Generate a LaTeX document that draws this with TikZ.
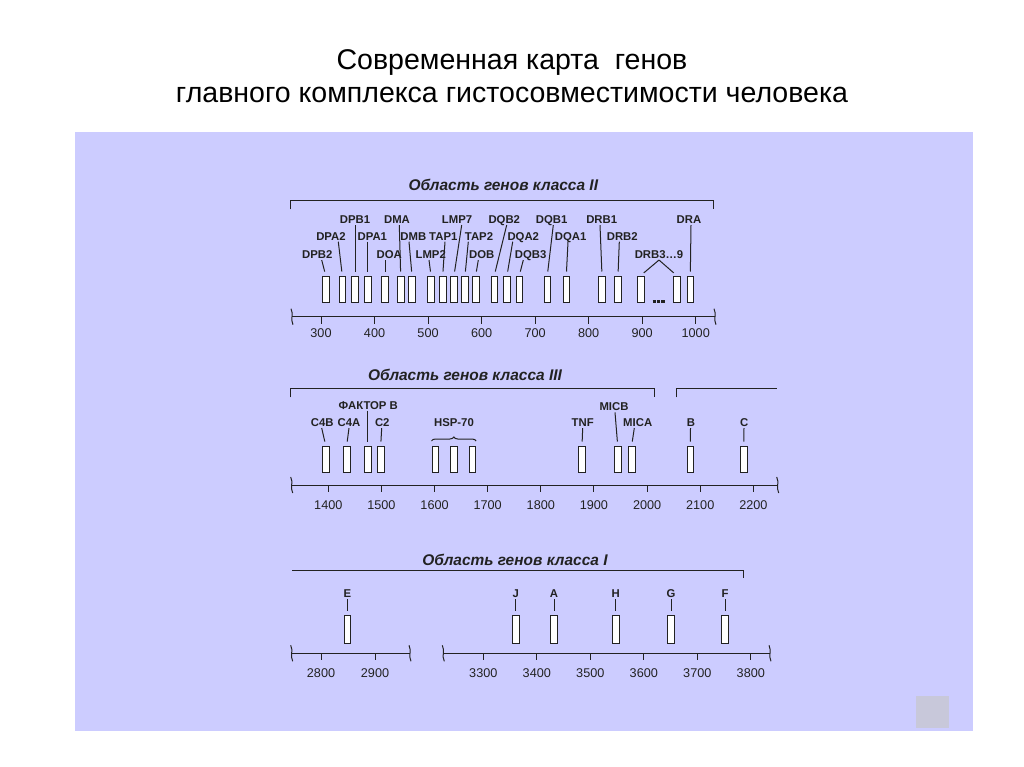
\documentclass[tikz,border=0pt]{standalone}
\usepackage{fontspec}
\setmainfont{Liberation Sans}
\usetikzlibrary{decorations.pathreplacing}
\definecolor{panel}{RGB}{204,204,255}
\definecolor{ink}{RGB}{34,34,34}
\definecolor{corner}{RGB}{200,200,218}
\tikzset{
  gene/.style={draw=ink,fill=white,line width=0.7pt,minimum width=5pt,minimum height=20pt,inner sep=0pt},
  glabel/.style={font=\bfseries\fontsize{8.5}{10}\selectfont,text=ink,inner sep=1pt,text height=6.2pt,text depth=0pt},
  num/.style={font=\fontsize{9.5}{11}\selectfont,text=ink,inner sep=1pt},
  region/.style={font=\bfseries\itshape\fontsize{11.6}{13}\selectfont,text=ink},
  lead/.style={draw=ink,line width=0.75pt,shorten >=3pt},
  axis/.style={draw=ink,line width=0.75pt}
}
\begin{document}
\begin{tikzpicture}[x=0.75pt,y=-0.75pt]
\fill[white] (0,0) rectangle (1024,767);
\fill[panel] (75,132.3) rectangle (973.3,730.5);
\fill[corner] (916,695.5) rectangle (949,727.5);
% title
\node[font=\fontsize{21.4}{25}\selectfont] (title1) at (512,62) {Современная карта~ генов};
\node[font=\fontsize{21.4}{25}\selectfont] (title2) at (512,95) {главного комплекса гистосовместимости человека};

% class II
\node[region] (reg2) at (503.3,185) {Область генов класса II};
\draw[axis] (290.7,209.3) -- (290.7,200.7) -- (713.3,200.7) -- (713.3,209.3);
\foreach \n/\bx/\lx/\ly/\sx/\t in {1/325.7/317.3/254.3/321.7/DPB2, 2/342.3/331/236/338.3/DPA2,
  3/355/355/219.3/355/DPB1, 4/367.7/372.3/236/367.7/DPA1, 5/385/389.3/254.3/385/DOA,
  6/400.7/397/219.3/399.3/DMA, 7/412/413.3/236/409/DMB, 8/431/430.7/254.3/429/LMP2,
  9/442.7/443.3/236/445/TAP1, 10/454/457/219.3/461.7/LMP7, 11/465/479/236/468.3/TAP2,
  12/475.7/481.7/254.3/478.3/DOB, 13/494.3/504.3/219.3/506.7/DQB2, 14/507/523.3/236/512.7/DQA2,
  15/519.3/530.7/254.3/523.3/DQB3, 16/547.3/551.7/219.3/553.3/DQB1, 17/566.3/570.7/236/568/DQA1,
  18/602/601.7/219.3/600/DRB1, 19/618/622.3/236/619.3/DRB2, 20/690.3/689/219.3/691/DRA}
{
  \node[gene] (b2-\n) at (\bx,289.3) {};
  \node[glabel] (l2-\n) at (\lx,\ly) {\t};
  \draw[lead] (\sx,0 |- l2-\n.south) -- (b2-\n.north);
}
\node[gene] (b2-dr1) at (640.7,289.3) {};
\node[gene] (b2-dr2) at (676.7,289.3) {};
\node[glabel] (l2-dr) at (659,254.3) {DRB3…9};
\draw[lead] (l2-dr.south) -- (b2-dr1.north);
\draw[lead] (l2-dr.south) -- (b2-dr2.north);
\draw[ink,line width=2pt,dash pattern=on 2.5pt off 0.8pt] (b2-dr1.south east) ++(8,-1.5) -- ++(13,0);
\draw[axis] (292,316.7) -- (715,316.7);
\foreach \ex in {292,715}
  \draw[axis] (\ex-1,308.7) .. controls (\ex+2,314.7) and (\ex-2,318.7) .. (\ex+1,324.7);
\foreach \v [count=\k from 0] in {300,400,...,1000}
  \draw[axis] (321+\k*53.53,316.7) -- ++(0,7) node[num] (n\v) at (321+\k*53.53,333.3) {\v};

% class III
\node[region] (reg3) at (465,375) {Область генов класса III};
\draw[axis] (290.7,397.3) -- (290.7,388.3) -- (654,388.3) -- (654,397.3);
\draw[axis] (676.7,397.3) -- (676.7,388.3) -- (776.7,388.3);
\foreach \n/\bx/\lx/\ly/\sx/\t in {1/325.7/322.3/422.3/321.7/C4B, 2/346.7/349/422.3/349/C4A,
  3/367.7/368.3/405/367.7/ФАКТОР B, 4/380.7/382.3/422.3/381.7/C2, 5/582/582.7/422.3/582.7/TNF,
  6/617.7/614/406.7/615/MICB, 7/631.7/637.7/422.3/634.3/MICA, 8/690.3/691/422.3/690.5/B,
  9/743.7/744.3/422.3/744/C}
{
  \node[gene] (b3-\n) at (\bx,459.3) {};
  \node[glabel] (l3-\n) at (\lx,\ly) {\t};
  \draw[lead] (\sx,0 |- l3-\n.south) -- (b3-\n.north);
}
\foreach \n/\bx in {1/435.3,2/453.7,3/472.3}
  \node[gene] (h\n) at (\bx,459.3) {};
\node[glabel] (hsp) at (454,422.3) {HSP-70};
\draw[axis,decorate,decoration={brace,amplitude=3pt}] (h1.west |- 0,441) -- (h3.east |- 0,441);
\draw[axis] (291.7,485) -- (777.7,485);
\foreach \ex in {291.7,777.7}
  \draw[axis] (\ex-1,477) .. controls (\ex+2,483) and (\ex-2,487) .. (\ex+1,493);
\foreach \v [count=\k from 0] in {1400,1500,...,2200}
  \draw[axis] (328.3+\k*53.13,485) -- ++(0,7) node[num] (n\v) at (328.3+\k*53.13,505) {\v};

% class I
\node[region] (reg1) at (515,560) {Область генов класса I};
\draw[axis] (292.3,570) -- (743.3,570) -- (743.3,578.3);
\foreach \n/\bx/\t in {1/347.3/E, 2/515.7/J, 3/554/A, 4/615.7/H, 5/671/G, 6/725/F}
{
  \node[gene,minimum height=21pt] (b1-\n) at (\bx,629.2) {};
  \node[glabel] (l1-\n) at (\bx,593.3) {\t};
  \draw[lead] (l1-\n.south) -- (b1-\n.north);
}
\draw[axis] (291.7,653.3) -- (410,653.3);
\draw[axis] (443.3,653.3) -- (770,653.3);
\foreach \ex in {291.7,410,443.3,770}
  \draw[axis] (\ex-1,645.3) .. controls (\ex+2,651.3) and (\ex-2,655.3) .. (\ex+1,661.3);
\foreach \v/\tx in {2800/321,2900/375}
  \draw[axis] (\tx,653.3) -- ++(0,7) node[num] (n\v) at (\tx,673.3) {\v};
\foreach \v [count=\k from 0] in {3300,3400,...,3800}
  \draw[axis] (483.3+\k*53.5,653.3) -- ++(0,7) node[num] (n\v) at (483.3+\k*53.5,673.3) {\v};
\end{tikzpicture}
\end{document}
